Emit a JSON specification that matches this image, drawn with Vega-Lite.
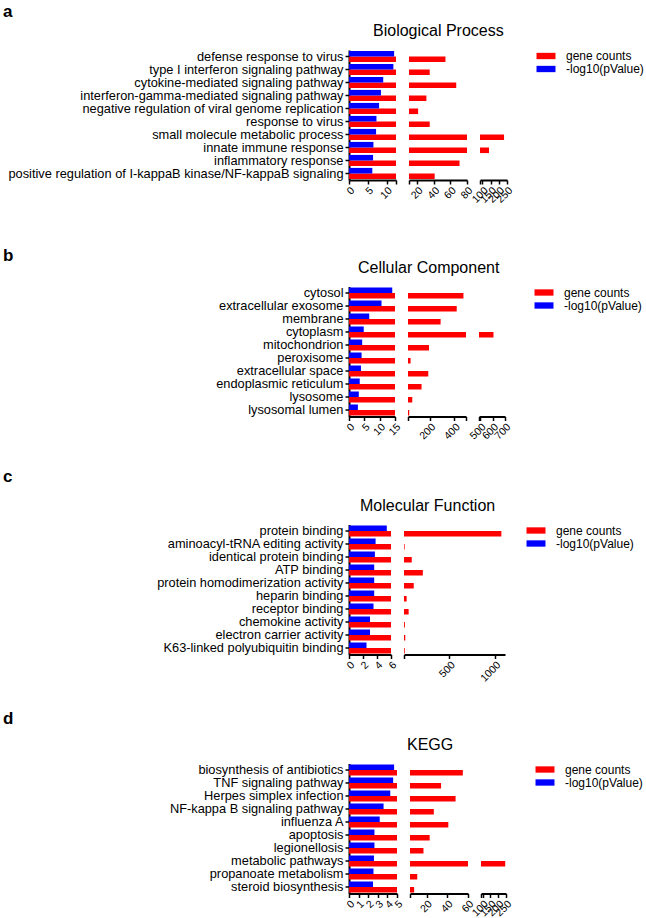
{
  "$schema": "https://vega.github.io/schema/vega-lite/v6.json",
  "padding": {"left": 3, "top": 2, "right": 5, "bottom": 1},
  "config": {
    "view": {"stroke": null},
    "font": "Liberation Sans",
    "axis": {"grid": false, "domainColor": "#000", "domainWidth": 2, "tickColor": "#000", "tickWidth": 1.5, "tickSize": 4, "labelColor": "#000", "labelFont": "Liberation Sans"},
    "axisX": {"labelAngle": -45, "labelFontSize": 10.5, "labelOverlap": false, "labelFlush": false, "labelBound": false, "labelPadding": 1},
    "axisY": {"labelFontSize": 12.8, "labelLimit": 400, "labelPadding": 2},
    "title": {"font": "Liberation Sans", "color": "#000", "fontWeight": "normal"},
    "legend": {"symbolSize": 40, "symbolStrokeWidth": 0, "labelFontSize": 12, "labelOffset": 14, "rowPadding": 1, "labelFont": "Liberation Sans", "labelColor": "#000"}
  },
  "datasets": {
    "bp": [
      {"term": "defense response to virus", "series": "gene counts", "value": 54},
      {"term": "defense response to virus", "series": "-log10(pValue)", "value": 12.0},
      {"term": "type I interferon signaling pathway", "series": "gene counts", "value": 35},
      {"term": "type I interferon signaling pathway", "series": "-log10(pValue)", "value": 11.8},
      {"term": "cytokine-mediated signaling pathway", "series": "gene counts", "value": 67},
      {"term": "cytokine-mediated signaling pathway", "series": "-log10(pValue)", "value": 9.1},
      {"term": "interferon-gamma-mediated signaling pathway", "series": "gene counts", "value": 31},
      {"term": "interferon-gamma-mediated signaling pathway", "series": "-log10(pValue)", "value": 8.5},
      {"term": "negative regulation of viral genome replication", "series": "gene counts", "value": 21},
      {"term": "negative regulation of viral genome replication", "series": "-log10(pValue)", "value": 8.0},
      {"term": "response to virus", "series": "gene counts", "value": 35},
      {"term": "response to virus", "series": "-log10(pValue)", "value": 7.3},
      {"term": "small molecule metabolic process", "series": "gene counts", "value": 232},
      {"term": "small molecule metabolic process", "series": "-log10(pValue)", "value": 7.2},
      {"term": "innate immune response", "series": "gene counts", "value": 140},
      {"term": "innate immune response", "series": "-log10(pValue)", "value": 6.5},
      {"term": "inflammatory response", "series": "gene counts", "value": 71},
      {"term": "inflammatory response", "series": "-log10(pValue)", "value": 6.4},
      {"term": "positive regulation of I-kappaB kinase/NF-kappaB signaling", "series": "gene counts", "value": 41},
      {"term": "positive regulation of I-kappaB kinase/NF-kappaB signaling", "series": "-log10(pValue)", "value": 6.2}
    ],
    "cc": [
      {"term": "cytosol", "series": "gene counts", "value": 474},
      {"term": "cytosol", "series": "-log10(pValue)", "value": 14.1},
      {"term": "extracellular exosome", "series": "gene counts", "value": 419},
      {"term": "extracellular exosome", "series": "-log10(pValue)", "value": 10.6},
      {"term": "membrane", "series": "gene counts", "value": 287},
      {"term": "membrane", "series": "-log10(pValue)", "value": 6.6},
      {"term": "cytoplasm", "series": "gene counts", "value": 607},
      {"term": "cytoplasm", "series": "-log10(pValue)", "value": 4.8},
      {"term": "mitochondrion", "series": "gene counts", "value": 192},
      {"term": "mitochondrion", "series": "-log10(pValue)", "value": 4.3},
      {"term": "peroxisome", "series": "gene counts", "value": 41},
      {"term": "peroxisome", "series": "-log10(pValue)", "value": 4.1},
      {"term": "extracellular space", "series": "gene counts", "value": 186},
      {"term": "extracellular space", "series": "-log10(pValue)", "value": 3.9},
      {"term": "endoplasmic reticulum", "series": "gene counts", "value": 131},
      {"term": "endoplasmic reticulum", "series": "-log10(pValue)", "value": 3.5},
      {"term": "lysosome", "series": "gene counts", "value": 55},
      {"term": "lysosome", "series": "-log10(pValue)", "value": 3.2},
      {"term": "lysosomal lumen", "series": "gene counts", "value": 30},
      {"term": "lysosomal lumen", "series": "-log10(pValue)", "value": 2.9}
    ],
    "mf": [
      {"term": "protein binding", "series": "gene counts", "value": 1070},
      {"term": "protein binding", "series": "-log10(pValue)", "value": 5.4},
      {"term": "aminoacyl-tRNA editing activity", "series": "gene counts", "value": 7},
      {"term": "aminoacyl-tRNA editing activity", "series": "-log10(pValue)", "value": 3.8},
      {"term": "identical protein binding", "series": "gene counts", "value": 85},
      {"term": "identical protein binding", "series": "-log10(pValue)", "value": 3.7},
      {"term": "ATP binding", "series": "gene counts", "value": 207},
      {"term": "ATP binding", "series": "-log10(pValue)", "value": 3.6},
      {"term": "protein homodimerization activity", "series": "gene counts", "value": 107},
      {"term": "protein homodimerization activity", "series": "-log10(pValue)", "value": 3.6},
      {"term": "heparin binding", "series": "gene counts", "value": 29},
      {"term": "heparin binding", "series": "-log10(pValue)", "value": 3.6},
      {"term": "receptor binding", "series": "gene counts", "value": 51},
      {"term": "receptor binding", "series": "-log10(pValue)", "value": 3.5},
      {"term": "chemokine activity", "series": "gene counts", "value": 10},
      {"term": "chemokine activity", "series": "-log10(pValue)", "value": 3.0},
      {"term": "electron carrier activity", "series": "gene counts", "value": 14},
      {"term": "electron carrier activity", "series": "-log10(pValue)", "value": 3.0},
      {"term": "K63-linked polyubiquitin binding", "series": "gene counts", "value": 8},
      {"term": "K63-linked polyubiquitin binding", "series": "-log10(pValue)", "value": 2.5}
    ],
    "kegg": [
      {"term": "biosynthesis of antibiotics", "series": "gene counts", "value": 55},
      {"term": "biosynthesis of antibiotics", "series": "-log10(pValue)", "value": 4.7},
      {"term": "TNF signaling pathway", "series": "gene counts", "value": 34},
      {"term": "TNF signaling pathway", "series": "-log10(pValue)", "value": 4.6},
      {"term": "Herpes simplex infection", "series": "gene counts", "value": 48},
      {"term": "Herpes simplex infection", "series": "-log10(pValue)", "value": 4.3},
      {"term": "NF-kappa B signaling pathway", "series": "gene counts", "value": 27},
      {"term": "NF-kappa B signaling pathway", "series": "-log10(pValue)", "value": 3.6},
      {"term": "influenza A", "series": "gene counts", "value": 41},
      {"term": "influenza A", "series": "-log10(pValue)", "value": 3.2},
      {"term": "apoptosis", "series": "gene counts", "value": 23},
      {"term": "apoptosis", "series": "-log10(pValue)", "value": 2.65},
      {"term": "legionellosis", "series": "gene counts", "value": 17},
      {"term": "legionellosis", "series": "-log10(pValue)", "value": 2.65},
      {"term": "metabolic pathways", "series": "gene counts", "value": 245},
      {"term": "metabolic pathways", "series": "-log10(pValue)", "value": 2.6},
      {"term": "propanoate metabolism", "series": "gene counts", "value": 11},
      {"term": "propanoate metabolism", "series": "-log10(pValue)", "value": 2.55},
      {"term": "steroid biosynthesis", "series": "gene counts", "value": 8},
      {"term": "steroid biosynthesis", "series": "-log10(pValue)", "value": 2.5}
    ]
  },
  "resolve": {"scale": {"color": "independent"}},
  "spacing": 41.5,
  "vconcat": [
    {
      "title": {"text": "a", "anchor": "start", "fontSize": 17, "fontWeight": "bold", "offset": 2.5},
      "resolve": {"scale": {"color": "independent"}},
      "vconcat": [{
        "title": {"text": "Biological Process", "anchor": "start", "dx": 370, "fontSize": 16, "offset": 11},
        "data": {"name": "bp"},
        "spacing": 13,
        "bounds": "flush",
        "hconcat": [
          {
            "width": 47, "height": 130,
            "mark": {"type": "bar", "clip": true},
            "encoding": {
              "y": {"field": "term", "type": "nominal", "sort": null, "scale": {"paddingInner": 0.14, "paddingOuter": 0.07}, "axis": {"title": null, "minExtent": 346, "maxExtent": 346}},
              "x": {"field": "value", "type": "quantitative", "scale": {"domain": [0, 12.5], "nice": false, "zero": false}, "axis": {"title": null, "values": [0, 5, 10, 12.5], "labelExpr": "datum.value == 12.5 ? '' : datum.label"}},
              "yOffset": {"field": "series", "scale": {"domain": ["-log10(pValue)", "gene counts"], "paddingInner": 0, "paddingOuter": 0}},
              "color": {"field": "series", "type": "nominal", "scale": {"domain": ["gene counts", "-log10(pValue)"], "range": ["#ff0000", "#0000ff"]}, "legend": {"title": null, "orient": "right", "offset": 25, "symbolType": "M-3,-1H3V1H-3Z"}}
            }
          },
          {
            "width": 58, "height": 130,
            "transform": [{"filter": "datum.series == 'gene counts'"}],
            "mark": {"type": "bar", "clip": true},
            "encoding": {
              "y": {"field": "term", "type": "nominal", "sort": null, "scale": {"paddingInner": 0.14, "paddingOuter": 0.07}, "axis": null},
              "x": {"field": "value", "type": "quantitative", "scale": {"domain": [10, 80], "nice": false, "zero": false}, "axis": {"title": null, "values": [10, 20, 40, 60, 80], "labelExpr": "datum.value == 10 ? '' : datum.label"}},
              "yOffset": {"field": "series", "scale": {"domain": ["-log10(pValue)", "gene counts"], "paddingInner": 0, "paddingOuter": 0}},
              "color": {"field": "series", "type": "nominal", "scale": {"domain": ["gene counts", "-log10(pValue)"], "range": ["#ff0000", "#0000ff"]}, "legend": {"title": null, "orient": "right", "offset": 25, "symbolType": "M-3,-1H3V1H-3Z"}}
            }
          },
          {
            "width": 27, "height": 130,
            "transform": [{"filter": "datum.series == 'gene counts'"}],
            "mark": {"type": "bar", "clip": true},
            "encoding": {
              "y": {"field": "term", "type": "nominal", "sort": null, "scale": {"paddingInner": 0.14, "paddingOuter": 0.07}, "axis": null},
              "x": {"field": "value", "type": "quantitative", "scale": {"domain": [85, 250], "nice": false, "zero": false}, "axis": {"title": null, "values": [85, 100, 150, 200, 250], "labelExpr": "datum.value == 85 ? '' : datum.label"}},
              "yOffset": {"field": "series", "scale": {"domain": ["-log10(pValue)", "gene counts"], "paddingInner": 0, "paddingOuter": 0}},
              "color": {"field": "series", "type": "nominal", "scale": {"domain": ["gene counts", "-log10(pValue)"], "range": ["#ff0000", "#0000ff"]}, "legend": {"title": null, "orient": "right", "offset": 25, "symbolType": "M-3,-1H3V1H-3Z"}}
            }
          }
        ]
      }]
    },
    {
      "resolve": {"scale": {"color": "independent"}},
      "spacing": 26,
      "vconcat": [
        {
          "title": {"text": "b", "anchor": "start", "fontSize": 17, "fontWeight": "bold", "offset": -5},
          "resolve": {"scale": {"color": "independent"}},
          "vconcat": [{
            "title": {"text": "Cellular Component", "anchor": "start", "dx": 355, "fontSize": 16, "offset": 11},
            "data": {"name": "cc"},
            "spacing": 13,
            "bounds": "flush",
            "hconcat": [
              {
                "width": 46, "height": 130,
                "mark": {"type": "bar", "clip": true},
                "encoding": {
                  "y": {"field": "term", "type": "nominal", "sort": null, "scale": {"paddingInner": 0.14, "paddingOuter": 0.07}, "axis": {"title": null, "minExtent": 346, "maxExtent": 346}},
                  "x": {"field": "value", "type": "quantitative", "scale": {"domain": [0, 15], "nice": false, "zero": false}, "axis": {"title": null, "values": [0, 5, 10, 15]}},
                  "yOffset": {"field": "series", "scale": {"domain": ["-log10(pValue)", "gene counts"], "paddingInner": 0, "paddingOuter": 0}},
                  "color": {"field": "series", "type": "nominal", "scale": {"domain": ["gene counts", "-log10(pValue)"], "range": ["#ff0000", "#0000ff"]}, "legend": {"title": null, "orient": "right", "offset": 25, "symbolType": "M-3,-1H3V1H-3Z"}}
                }
              },
              {
                "width": 58, "height": 130,
                "transform": [{"filter": "datum.series == 'gene counts'"}],
                "mark": {"type": "bar", "clip": true},
                "encoding": {
                  "y": {"field": "term", "type": "nominal", "sort": null, "scale": {"paddingInner": 0.14, "paddingOuter": 0.07}, "axis": null},
                  "x": {"field": "value", "type": "quantitative", "scale": {"domain": [20, 495], "nice": false, "zero": false}, "axis": {"title": null, "values": [20, 200, 400, 495], "labelExpr": "datum.value == 20 || datum.value == 495 ? '' : datum.label"}},
                  "yOffset": {"field": "series", "scale": {"domain": ["-log10(pValue)", "gene counts"], "paddingInner": 0, "paddingOuter": 0}},
                  "color": {"field": "series", "type": "nominal", "scale": {"domain": ["gene counts", "-log10(pValue)"], "range": ["#ff0000", "#0000ff"]}, "legend": {"title": null, "orient": "right", "offset": 25, "symbolType": "M-3,-1H3V1H-3Z"}}
                }
              },
              {
                "width": 26, "height": 130,
                "transform": [{"filter": "datum.series == 'gene counts'"}],
                "mark": {"type": "bar", "clip": true},
                "encoding": {
                  "y": {"field": "term", "type": "nominal", "sort": null, "scale": {"paddingInner": 0.14, "paddingOuter": 0.07}, "axis": null},
                  "x": {"field": "value", "type": "quantitative", "scale": {"domain": [490, 700], "nice": false, "zero": false}, "axis": {"title": null, "values": [490, 500, 600, 700], "labelExpr": "datum.value == 490 ? '' : datum.label"}},
                  "yOffset": {"field": "series", "scale": {"domain": ["-log10(pValue)", "gene counts"], "paddingInner": 0, "paddingOuter": 0}},
                  "color": {"field": "series", "type": "nominal", "scale": {"domain": ["gene counts", "-log10(pValue)"], "range": ["#ff0000", "#0000ff"]}, "legend": {"title": null, "orient": "right", "offset": 25, "symbolType": "M-3,-1H3V1H-3Z"}}
                }
              }
            ]
          }]
        },
        {
          "resolve": {"scale": {"color": "independent"}},
          "spacing": 26,
          "vconcat": [
            {
              "title": {"text": "c", "anchor": "start", "fontSize": 17, "fontWeight": "bold", "offset": 12},
              "resolve": {"scale": {"color": "independent"}},
              "vconcat": [{
                "title": {"text": "Molecular Function", "anchor": "start", "dx": 357, "fontSize": 16, "offset": 11},
                "data": {"name": "mf"},
                "spacing": 13,
                "bounds": "flush",
                "hconcat": [
                  {
                    "width": 42, "height": 130,
                    "mark": {"type": "bar", "clip": true},
                    "encoding": {
                      "y": {"field": "term", "type": "nominal", "sort": null, "scale": {"paddingInner": 0.14, "paddingOuter": 0.07}, "axis": {"title": null, "minExtent": 346, "maxExtent": 346}},
                      "x": {"field": "value", "type": "quantitative", "scale": {"domain": [0, 6], "nice": false, "zero": false}, "axis": {"title": null, "values": [0, 2, 4, 6]}},
                      "yOffset": {"field": "series", "scale": {"domain": ["-log10(pValue)", "gene counts"], "paddingInner": 0, "paddingOuter": 0}},
                      "color": {"field": "series", "type": "nominal", "scale": {"domain": ["gene counts", "-log10(pValue)"], "range": ["#ff0000", "#0000ff"]}, "legend": {"title": null, "orient": "right", "offset": 25, "symbolType": "M-3,-1H3V1H-3Z"}}
                    }
                  },
                  {
                    "width": 101, "height": 130,
                    "transform": [{"filter": "datum.series == 'gene counts'"}],
                    "mark": {"type": "bar", "clip": true},
                    "encoding": {
                      "y": {"field": "term", "type": "nominal", "sort": null, "scale": {"paddingInner": 0.14, "paddingOuter": 0.07}, "axis": null},
                      "x": {"field": "value", "type": "quantitative", "scale": {"domain": [0, 1110], "nice": false, "zero": false}, "axis": {"title": null, "format": "d", "values": [0, 500, 1000], "labelExpr": "datum.value == 0 ? '' : datum.label"}},
                      "yOffset": {"field": "series", "scale": {"domain": ["-log10(pValue)", "gene counts"], "paddingInner": 0, "paddingOuter": 0}},
                      "color": {"field": "series", "type": "nominal", "scale": {"domain": ["gene counts", "-log10(pValue)"], "range": ["#ff0000", "#0000ff"]}, "legend": {"title": null, "orient": "right", "offset": 25, "symbolType": "M-3,-1H3V1H-3Z"}}
                    }
                  }
                ]
              }]
            },
            {
              "title": {"text": "d", "anchor": "start", "fontSize": 17, "fontWeight": "bold", "offset": 9},
              "resolve": {"scale": {"color": "independent"}},
              "vconcat": [{
                "title": {"text": "KEGG", "anchor": "start", "dx": 404, "fontSize": 16, "offset": 11},
                "data": {"name": "kegg"},
                "spacing": 13,
                "bounds": "flush",
                "hconcat": [
                  {
                    "width": 48, "height": 130,
                    "mark": {"type": "bar", "clip": true},
                    "encoding": {
                      "y": {"field": "term", "type": "nominal", "sort": null, "scale": {"paddingInner": 0.14, "paddingOuter": 0.07}, "axis": {"title": null, "minExtent": 346, "maxExtent": 346}},
                      "x": {"field": "value", "type": "quantitative", "scale": {"domain": [0, 5], "nice": false, "zero": false}, "axis": {"title": null, "values": [0, 1, 2, 3, 4, 5]}},
                      "yOffset": {"field": "series", "scale": {"domain": ["-log10(pValue)", "gene counts"], "paddingInner": 0, "paddingOuter": 0}},
                      "color": {"field": "series", "type": "nominal", "scale": {"domain": ["gene counts", "-log10(pValue)"], "range": ["#ff0000", "#0000ff"]}, "legend": {"title": null, "orient": "right", "offset": 25, "symbolType": "M-3,-1H3V1H-3Z"}}
                    }
                  },
                  {
                    "width": 58, "height": 130,
                    "transform": [{"filter": "datum.series == 'gene counts'"}],
                    "mark": {"type": "bar", "clip": true},
                    "encoding": {
                      "y": {"field": "term", "type": "nominal", "sort": null, "scale": {"paddingInner": 0.14, "paddingOuter": 0.07}, "axis": null},
                      "x": {"field": "value", "type": "quantitative", "scale": {"domain": [4, 60], "nice": false, "zero": false}, "axis": {"title": null, "values": [4, 20, 40, 60], "labelExpr": "datum.value == 4 ? '' : datum.label"}},
                      "yOffset": {"field": "series", "scale": {"domain": ["-log10(pValue)", "gene counts"], "paddingInner": 0, "paddingOuter": 0}},
                      "color": {"field": "series", "type": "nominal", "scale": {"domain": ["gene counts", "-log10(pValue)"], "range": ["#ff0000", "#0000ff"]}, "legend": {"title": null, "orient": "right", "offset": 25, "symbolType": "M-3,-1H3V1H-3Z"}}
                    }
                  },
                  {
                    "width": 25, "height": 130,
                    "transform": [{"filter": "datum.series == 'gene counts'"}],
                    "mark": {"type": "bar", "clip": true},
                    "encoding": {
                      "y": {"field": "term", "type": "nominal", "sort": null, "scale": {"paddingInner": 0.14, "paddingOuter": 0.07}, "axis": null},
                      "x": {"field": "value", "type": "quantitative", "scale": {"domain": [90, 250], "nice": false, "zero": false}, "axis": {"title": null, "values": [90, 100, 150, 200, 250], "labelExpr": "datum.value == 90 ? '' : datum.label"}},
                      "yOffset": {"field": "series", "scale": {"domain": ["-log10(pValue)", "gene counts"], "paddingInner": 0, "paddingOuter": 0}},
                      "color": {"field": "series", "type": "nominal", "scale": {"domain": ["gene counts", "-log10(pValue)"], "range": ["#ff0000", "#0000ff"]}, "legend": {"title": null, "orient": "right", "offset": 25, "symbolType": "M-3,-1H3V1H-3Z"}}
                    }
                  }
                ]
              }]
            }
          ]
        }
      ]
    }
  ]
}
